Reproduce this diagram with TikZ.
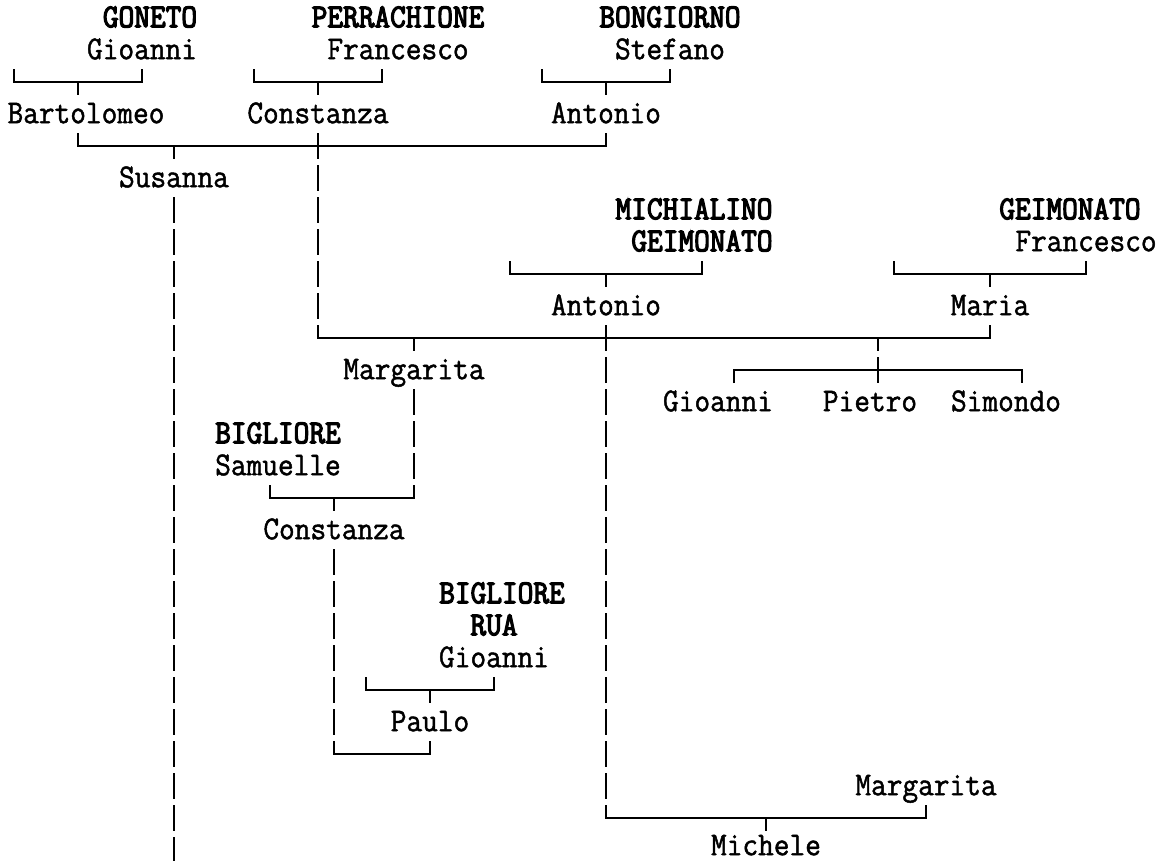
\documentclass[tikz,border=0pt]{standalone}
\usepackage{fontspec}
\setmonofont{Latin Modern Mono}[FakeStretch=0.914,FakeBold=1.4]
\newfontfamily\surfont{Latin Modern Mono}[FakeStretch=0.914,FakeBold=3.6]
\usetikzlibrary{positioning}

\begin{document}
\begin{tikzpicture}[
  x=12pt, y=-24pt,
  person/.style={
    inner sep=0pt,
    minimum height=24pt,
    text height=15.3pt,
    text depth=1.5pt,
    font=\ttfamily\fontsize{25pt}{28pt}\selectfont
  },
  family/.style={
    person,
    font=\surfont\fontsize{25pt}{28pt}\selectfont
  },
  link/.style={line width=1.5pt},
  desc/.style={link, dash pattern=on 19.5pt off 4.5pt},
  descmid/.style={desc, dash phase=9.75pt}
  ]
  \useasboundingbox (-0.875,-0.5625) rectangle (71.6875,26.34375);

  % first generation
  \node[family] (goneto) at (8.5,0) {GONETO};
  \node[person] (gioanniA) at (8,1) {Gioanni};
  \node[family] (perrachione) at (24,0) {PERRACHIONE};
  \node[person] (francescoA) at (24,1) {Francesco};
  \node[family] (bongiorno) at (41,0) {BONGIORNO};
  \node[person] (stefano) at (41,1) {Stefano};

  \node[person] (bartolomeo) at (4.5,3) {Bartolomeo};
  \node[person] (constanzaA) at (19,3) {Constanza};
  \node[person] (antonioA) at (37,3) {Antonio};
  \node[person] (susanna) at (10,5) {Susanna};

  % second branch
  \node[family] (michialino) at (42.5,6) {MICHIALINO};
  \node[family] (geimonatoA) at (43,7) {GEIMONATO};
  \node[family] (geimonatoB) at (66,6) {GEIMONATO};
  \node[person] (francescoB) at (67,7) {Francesco};
  \node[person] (antonioB) at (37,9) {Antonio};
  \node[person] (maria) at (61,9) {Maria};

  \node[person] (margaritaA) at (25,11) {Margarita};
  \node[person] (gioanniB) at (44,12) {Gioanni};
  \node[person] (pietro) at (53.5,12) {Pietro};
  \node[person] (simondo) at (62,12) {Simondo};

  % third branch
  \node[family] (bigliore) at (16.5,13) {BIGLIORE};
  \node[person] (samuelle) at (16.5,14) {Samuelle};
  \node[person] (constanzaB) at (20,16) {Constanza};
  \node[family] (biglioreRua) at (30.5,18) {BIGLIORE};
  \node[family] (rua) at (30,19) {RUA};
  \node[person] (gioanniC) at (30,20) {Gioanni};
  \node[person] (paulo) at (26,22) {Paulo};
  \node[person] (margaritaB) at (57,24) {Margarita};
  \node[person, minimum height=0pt, inner ysep=-1pt, yshift=3pt] (michele) at (47,26) {Michele};

  % parents of the first generation
  \draw[link] (0,1.594) |- (8,2) -- (8,1.594);
  \draw[link] (4,2) -- (4,2.406);
  \draw[link] (15,1.594) |- (23,2) -- (23,1.594);
  \draw[link] (19,2) -- ([yshift=2.25pt]constanzaA.north);
  \draw[link] (33,1.594) |- (41,2) -- (41,1.594);
  \draw[link] (37,2) -- ([yshift=2.25pt]antonioA.north);

  % Susanna
  \draw[link] (4,3.594) |- (37,4) -- ([yshift=-2.25pt]antonioA.south);
  \draw[link] (10,4) -- ([yshift=2.25pt]susanna.north);
  \draw[desc] ([yshift=-2.25pt]susanna.south) -- (10,26.34375);

  % Antonio and Maria
  \draw[link] (31,7.594) |- (43,8) -- (43,7.594);
  \draw[link] (37,8) -- ([yshift=2.25pt]antonioB.north);
  \draw[link] (55,7.594) |- (67,8) -- (67,7.594);
  \draw[link] (61,8) -- ([yshift=2.25pt]maria.north);

  \draw[desc] ([yshift=-2.25pt]constanzaA.south) -- (19,10);
  \draw[link] (19,9.8) |- (61,10) -- ([yshift=-2.25pt]maria.south);
  \draw[link] (25,10) -- ([yshift=2.25pt]margaritaA.north);
  \draw[descmid] (54,10) -- (54,11.406);
  \draw[link] (45,11.406) |- (63,11) -- (63,11.406);

  % Constanza and Paulo
  \draw[desc] ([yshift=-2.25pt]margaritaA.south) -- (25,15);
  \draw[link] (25,14.8) |- (16,15) -- (16,14.594);
  \draw[link] (20,15) -- ([yshift=2.25pt]constanzaB.north);
  \draw[link] (22,20.594) |- (30,21) -- (30,20.594);
  \draw[link] (26,21) -- ([yshift=2.25pt]paulo.north);
  \draw[desc] ([yshift=-2.25pt]constanzaB.south) -- (20,23);
  \draw[link] (20,22.8) |- (26,23) -- ([yshift=-2.25pt]paulo.south);

  % Michele
  \draw[desc] ([yshift=-2.25pt]antonioB.south) -- (37,25);
  \draw[link] (37,24.8) |- (57,25) -- ([yshift=-2.25pt]margaritaB.south);
  \draw[link] (47,25) -- ([yshift=3.85pt]michele.north);
\end{tikzpicture}
\end{document}
